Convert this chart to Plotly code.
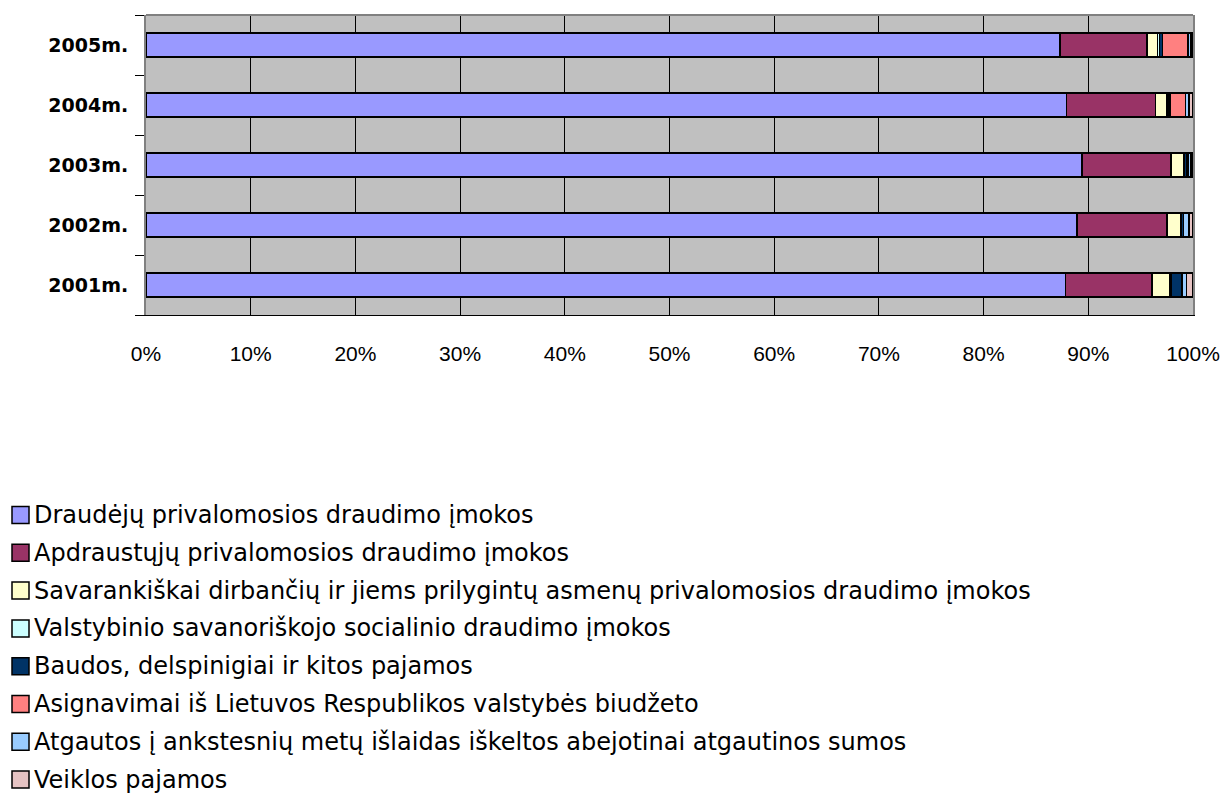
import plotly.graph_objects as go

years = ["2001m.", "2002m.", "2003m.", "2004m.", "2005m."]

series_names = [
    "Draudėjų privalomosios draudimo įmokos",
    "Apdraustųjų privalomosios draudimo įmokos",
    "Savarankiškai dirbančių ir jiems prilygintų asmenų privalomosios draudimo įmokos",
    "Valstybinio savanoriškojo socialinio draudimo įmokos",
    "Baudos, delspinigiai ir kitos pajamos",
    "Asignavimai iš Lietuvos Respublikos valstybės biudžeto",
    "Atgautos į ankstesnių metų išlaidas iškeltos abejotinai atgautinos sumos",
    "Veiklos pajamos",
]

# shares in percent, per year (2001..2005)
draudeju = [87.8, 88.9, 89.4, 87.9, 87.3]
apdraustuju = [8.3, 8.6, 8.5, 8.5, 8.3]
savarankiskai = [1.7, 1.3, 1.2, 1.1, 1.0]
valstybinio = [0.1, 0.1, 0.1, 0.1, 0.2]
baudos = [1.0, 0.2, 0.2, 0.2, 0.3]
asignavimai = [0.1, 0.0, 0.1, 1.5, 2.4]
atgautos = [0.4, 0.5, 0.3, 0.3, 0.3]
veiklos = [0.6, 0.4, 0.2, 0.4, 0.2]

series_values = [draudeju, apdraustuju, savarankiskai, valstybinio,
                 baudos, asignavimai, atgautos, veiklos]
colors = ["#9999FF", "#993366", "#FFFFCC", "#CCFFFF",
          "#003366", "#FF8080", "#99CCFF", "#E6C3C3"]

x_ticks = [0, 10, 20, 30, 40, 50, 60, 70, 80, 90, 100]
x_tick_labels = [f"{t}%" for t in x_ticks]

W, H = 1225, 794
ML, MR, MT, MB = 146, 32, 15, 479
PW, PH = W - ML - MR, H - MT - MB

fig = go.Figure()
for name, vals, col in zip(series_names, series_values, colors):
    fig.add_trace(go.Bar(
        y=years, x=vals, name=name, orientation="h",
        marker=dict(color=col, line=dict(color="black", width=1.5)),
        showlegend=False,
    ))

# legend block below the chart: square swatch + label per series
def px_to_paper_x(px):
    return (px - ML) / PW

def px_to_paper_y(py):
    return (H - MB - py) / PH

shapes = []
annotations = []
for i, (name, col) in enumerate(zip(series_names, colors)):
    cy = 515 + i * 37.8
    shapes.append(dict(
        type="rect", xref="paper", yref="paper",
        x0=px_to_paper_x(12), x1=px_to_paper_x(29),
        y0=px_to_paper_y(cy + 8.5), y1=px_to_paper_y(cy - 8.5),
        fillcolor=col, line=dict(color="black", width=1.5),
    ))
    annotations.append(dict(
        xref="paper", yref="paper",
        x=px_to_paper_x(32), y=px_to_paper_y(cy),
        xanchor="left", yanchor="middle", showarrow=False,
        text=name, font=dict(family="DejaVu Sans", size=24, color="black"),
    ))

# plot-area frame (top edge)
shapes.append(dict(type="line", xref="paper", yref="paper",
                   x0=0, x1=1, y0=1, y1=1,
                   line=dict(color="#808080", width=2)))

fig.update_layout(
    barmode="stack",
    bargap=0.6,
    width=W, height=H,
    margin=dict(l=ML, r=MR, t=MT, b=MB, autoexpand=False),
    paper_bgcolor="white",
    plot_bgcolor="#C0C0C0",
    font=dict(family="Arial, Liberation Sans", color="black"),
    showlegend=False,
    shapes=shapes,
    annotations=annotations,
    xaxis=dict(
        range=[0, 100], tickvals=x_ticks, ticktext=x_tick_labels,
        showgrid=True, gridcolor="black", gridwidth=1,
        zeroline=False, showline=True, linecolor="black", linewidth=1,
        ticks="", tickfont=dict(size=21, family="Arial, Liberation Sans"),
        ticklabelstandoff=20, automargin=False,
    ),
    yaxis=dict(
        categoryorder="array", categoryarray=years,
        showline=True, linecolor="#808080", linewidth=2, mirror=True,
        ticks="outside", tickson="boundaries", ticklen=9,
        tickcolor="black", tickwidth=1,
        tickfont=dict(size=19, family="DejaVu Sans", weight="bold"),
        ticklabelstandoff=12, automargin=False,
        showgrid=False,
    ),
)

fig.write_html("out.html")
